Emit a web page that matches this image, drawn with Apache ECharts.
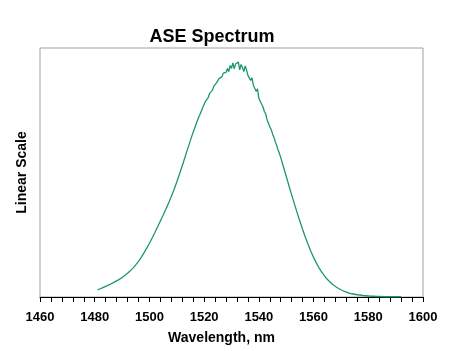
<!DOCTYPE html>
<html>
<head>
<meta charset="utf-8">
<script src="https://cdn.jsdelivr.net/npm/echarts@6/dist/echarts.min.js"></script>
<style>
  html, body { margin: 0; padding: 0; background: #fff; }
  #chart { width: 451px; height: 351px; }
</style>
</head>
<body>
<div id="chart"></div>
<script>
// wavelength (nm) and relative power
const wavelengths = [
  1481, 1482, 1483, 1484, 1485, 1486, 1487, 1488, 1489, 1490,
  1491, 1492, 1493, 1494, 1495, 1496, 1497, 1498, 1499, 1500,
  1501, 1502, 1503, 1504, 1505, 1506, 1507, 1508, 1509, 1510,
  1511, 1512, 1513, 1514, 1515, 1516, 1517,
  1518, 1518.5, 1519, 1519.5, 1520, 1520.5, 1521, 1521.5, 1522, 1522.5,
  1523, 1523.5, 1524, 1524.5, 1525, 1525.5, 1526, 1526.5, 1527, 1527.5,
  1528, 1528.5, 1529, 1529.5, 1530, 1530.5, 1531, 1531.5, 1532, 1532.5,
  1533, 1533.5, 1534, 1534.5, 1535, 1535.5, 1536, 1536.5, 1537, 1537.5,
  1538, 1538.5, 1539, 1539.5, 1540, 1540.5, 1541, 1541.5, 1542, 1542.5,
  1543, 1543.5, 1544, 1544.5, 1545, 1545.5, 1546, 1546.5, 1547, 1547.5,
  1548, 1549, 1550, 1551, 1552, 1553, 1554, 1555, 1556, 1557,
  1558, 1559, 1560, 1561, 1562, 1563, 1564, 1565, 1566, 1567,
  1568, 1569, 1570, 1571, 1572, 1573, 1574, 1575, 1576, 1577,
  1578, 1579, 1580, 1581, 1582, 1583, 1584, 1586, 1588, 1590, 1592
];
const power = [
  0.028, 0.033, 0.038, 0.043, 0.048, 0.053, 0.059, 0.065, 0.071, 0.078,
  0.086, 0.095, 0.105, 0.116, 0.129, 0.143, 0.159, 0.177, 0.196, 0.216,
  0.237, 0.259, 0.282, 0.305, 0.328, 0.352, 0.377, 0.404, 0.432, 0.462,
  0.494, 0.527, 0.561, 0.596, 0.630, 0.662, 0.693,
  0.722, 0.734, 0.747, 0.762, 0.770, 0.786, 0.793, 0.801, 0.818, 0.826,
  0.830, 0.846, 0.843, 0.860, 0.862, 0.878, 0.872, 0.884, 0.899, 0.893,
  0.902, 0.918, 0.905, 0.930, 0.918, 0.940, 0.916, 0.936, 0.931, 0.944,
  0.912, 0.934, 0.922, 0.905, 0.928, 0.912, 0.890, 0.898, 0.870, 0.880,
  0.850, 0.858, 0.826, 0.836, 0.798, 0.806, 0.774, 0.764, 0.746, 0.735,
  0.712, 0.707, 0.684, 0.673, 0.655, 0.642, 0.623, 0.609, 0.591, 0.577,
  0.560, 0.522, 0.485, 0.447, 0.410, 0.374, 0.338, 0.304, 0.271, 0.240,
  0.211, 0.184, 0.159, 0.137, 0.117, 0.100, 0.085, 0.071, 0.060, 0.050,
  0.042, 0.035, 0.029, 0.024, 0.020, 0.016, 0.013, 0.011, 0.009, 0.008,
  0.006, 0.005, 0.004, 0.003, 0.003, 0.002, 0.002, 0.001, 0.001, 0.001, 0.001
];

const FONT = "Liberation Sans, Arial, sans-serif";

const chart = echarts.init(document.getElementById("chart"), null, { renderer: "canvas" });

chart.setOption({
  animation: false,
  title: {
    text: "ASE Spectrum",
    left: 207,
    top: 23,
    textAlign: "center",
    textStyle: { fontFamily: FONT, fontSize: 18, fontWeight: "bold", color: "#000" }
  },
  grid: {
    left: 40, right: 28, top: 48, bottom: 54,
    show: true, borderColor: "#a0a0a0", borderWidth: 1,
    containLabel: false
  },
  xAxis: {
    type: "value",
    min: 1460, max: 1600, interval: 20,
    name: "Wavelength, nm",
    nameLocation: "middle",
    nameGap: 34,
    nameTextStyle: { fontFamily: FONT, fontSize: 14, fontWeight: "bold", color: "#000", padding: [0, 20, 0, 0] },
    axisLine: { show: true, lineStyle: { color: "#000", width: 1 } },
    axisTick: { show: true, length: 5, lineStyle: { color: "#000" } },
    minorTick: { show: true, splitNumber: 5, length: 5, lineStyle: { color: "#000" } },
    axisLabel: {
      fontFamily: FONT, fontSize: 13, fontWeight: "bold", color: "#000", margin: 14,
      formatter: (v) => String(v)
    },
    splitLine: { show: false }
  },
  yAxis: {
    type: "value",
    min: 0, max: 1,
    name: "Linear Scale",
    nameLocation: "middle",
    nameGap: 11,
    nameTextStyle: { fontFamily: FONT, fontSize: 14, fontWeight: "bold", color: "#000" },
    axisLine: { show: false },
    axisTick: { show: false },
    axisLabel: { show: false },
    splitLine: { show: false }
  },
  series: [{
    type: "line",
    data: wavelengths.map((w, i) => [w, power[i]]),
    showSymbol: false,
    smooth: false,
    lineStyle: { color: "#1b9670", width: 1.3 }
  }]
});
</script>
</body>
</html>
